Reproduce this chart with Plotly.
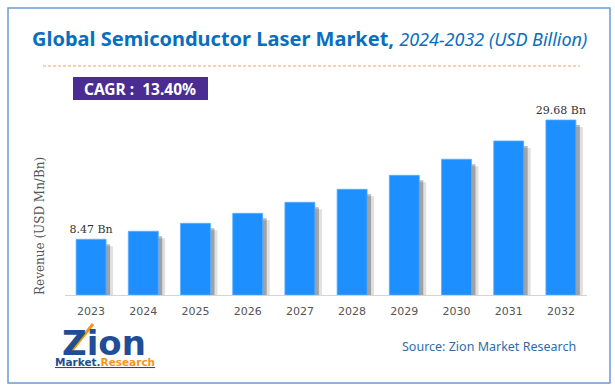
import plotly.graph_objects as go

# ---- data ----
years = ["2023", "2024", "2025", "2026", "2027", "2028", "2029", "2030", "2031", "2032"]
revenue = [8.47, 9.69, 10.90, 12.42, 14.10, 16.07, 18.20, 20.64, 23.42, 26.61]
bar_labels = ["8.47 Bn", "", "", "", "", "", "", "", "", "29.68 Bn"]
title_main = "Global Semiconductor Laser Market,"
title_sub = "2024-2032 (USD Billion)"
cagr_text = "CAGR :  13.40%"
y_title = "Revenue (USD Mn/Bn)"
source_text = "Source: Zion Market Research"

W, H = 615, 390
L, R, T, B = 65, 28, 100, 95
PW, PH = W - L - R, H - T - B
YMAX = 29.65
px_unit = 1.0 / (PW / len(years))      # one pixel in category units
px_val = YMAX / PH                      # one pixel in value units


def px(x, y):
    return (x - L) / PW, (H - B - y) / PH


BAR_W = 0.574
fig = go.Figure()

# soft shadows behind bars
for dx0, dx1, dy, col in [(6, 7, 7, "rgba(0,0,0,0.12)"), (4, 4, 5, "rgba(0,0,0,0.28)")]:
    fig.add_trace(go.Bar(
        x=years, y=[v - dy * px_val for v in revenue],
        width=BAR_W + (dx1 - dx0) * px_unit,
        offset=-BAR_W / 2 + dx0 * px_unit,
        marker=dict(color=col, line=dict(width=0)),
        hoverinfo="skip", showlegend=False))

fig.add_trace(go.Bar(
    x=years, y=revenue, width=BAR_W, offset=-BAR_W / 2,
    marker=dict(color="#1E8FFF", line=dict(color="#5BAEFF", width=0.8)),
    text=bar_labels, textposition="outside", cliponaxis=False, constraintext="none",
    textfont=dict(family="DejaVu Serif", size=11, color="#333333"),
    showlegend=False))

fig.update_layout(
    width=W, height=H, barmode="overlay",
    margin=dict(l=L, r=R, t=T, b=B, autoexpand=False),
    paper_bgcolor="white", plot_bgcolor="white",
    xaxis=dict(type="category", showline=True, linecolor="#d4d4d4", linewidth=1,
               ticks="", showgrid=False, ticklabelstandoff=6,
               tickfont=dict(family="DejaVu Sans", size=11, color="#555555")),
    yaxis=dict(range=[0, YMAX], visible=False, showgrid=False),
)

shapes = []
# outer border
x0, y0 = px(8, 8); x1, y1 = px(610, 383)
shapes.append(dict(type="rect", xref="paper", yref="paper", x0=x0, y0=y0, x1=x1, y1=y1,
                   line=dict(color="#6C9BD2", width=1.5), fillcolor="rgba(0,0,0,0)", layer="below"))
# dashed orange rule
x0, y0 = px(43, 66); x1, _ = px(580, 66)
shapes.append(dict(type="line", xref="paper", yref="paper", x0=x0, y0=y0, x1=x1, y1=y0,
                   line=dict(color="#F4A060", width=1, dash="3px,2px")))
# CAGR box
x0, y0 = px(73, 77); x1, y1 = px(208, 100)
shapes.append(dict(type="rect", xref="paper", yref="paper", x0=x0, y0=y0, x1=x1, y1=y1,
                   line=dict(width=0), fillcolor="#4B2C92"))
# logo slash
x0, y0 = px(69, 354); x1, y1 = px(93, 324)
shapes.append(dict(type="line", xref="paper", yref="paper", x0=x0, y0=y0, x1=x1, y1=y1,
                   line=dict(color="#F7941D", width=3)))
fig.update_layout(shapes=shapes)


def ann(text, x, y, **kw):
    ax, ay = px(x, y)
    d = dict(text=text, x=ax, y=ay, xref="paper", yref="paper", showarrow=False,
             xanchor="center", yanchor="middle")
    d.update(kw)
    fig.add_annotation(**d)


ann(f"<b style='font-size:20px'>{title_main}</b> <i style='font-size:18px'>{title_sub}</i>", 309, 38,
    font=dict(family="Noto Sans", size=20, color="#0A6EC0"))
ann(f"<b>{cagr_text}</b>", 140, 88.5,
    font=dict(family="Noto Sans", size=15.5, color="white"))
ann(y_title, 40, 226, textangle=-90,
    font=dict(family="DejaVu Serif", size=12, color="#555555"))
ann(source_text, 489, 346,
    font=dict(family="Noto Sans", size=12.5, color="#2E6DAA"))
ann("<b>Zion</b>", 104, 343,
    font=dict(family="DejaVu Sans", size=34, color="#1F4E96"))
ann("<b><u><span style='color:#1F4E96'>Market.</span>"
    "<span style='color:#F7941D'>Research</span></u></b>",
    105, 362, font=dict(family="DejaVu Sans", size=10.5, color="#1F4E96"))

fig.write_html("out.html", config={"displayModeBar": False},
               post_script="document.body.style.margin='0';")
